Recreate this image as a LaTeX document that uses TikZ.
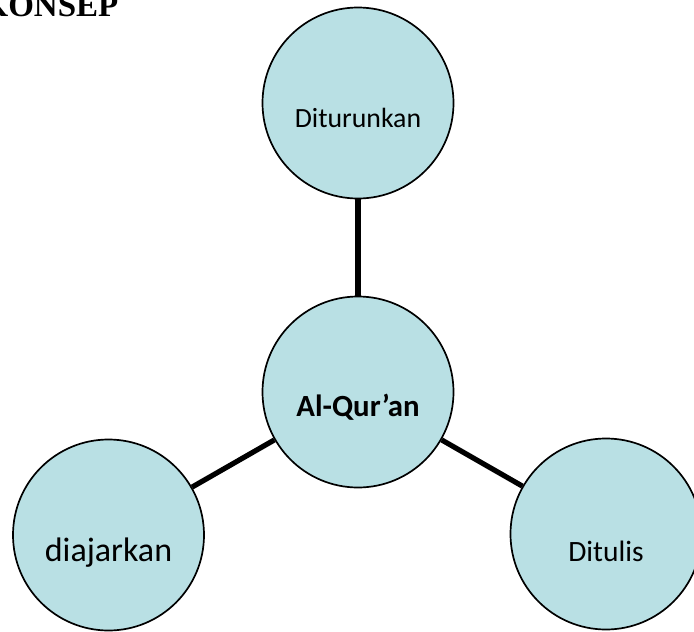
\documentclass[tikz,border=0pt]{standalone}
\usepackage{fontspec}
\setmainfont{Carlito}
\newfontfamily\titlefont{Liberation Serif}
\usetikzlibrary{positioning,calc}
\definecolor{bubc}{HTML}{B9E0E4}
\definecolor{linec}{HTML}{000000}

\begin{document}
\begin{tikzpicture}[x=1pt,y=-1pt,
      bubble/.style={circle,draw=linec,line width=1.7pt,fill=bubc,minimum size=191pt,inner sep=0pt},
      word/.style={inner sep=0pt,text=black},
      link/.style={draw=linec,line width=5.2pt}]
    \useasboundingbox (0,0) rectangle (694,632);
    \clip (0,0) rectangle (694,632);
    \node[word,anchor=base east,font=\titlefont\bfseries\fontsize{33}{33}\selectfont] (title) at (118.5,16.7) {KONSEP};
    % circles
    \node[bubble] (quran) at (358,392) {};
    \node[bubble] (turun) at (358,103) {};
    \node[bubble] (ajar) at (108.5,535) {};
    \node[bubble] (tulis) at (606,534) {};
    % connectors
    \draw[link] (quran) -- (turun);
    \draw[link] (quran) -- (ajar);
    \draw[link] (quran) -- (tulis);
    % texts
    \node[word,font=\bfseries\fontsize{30.8}{30.8}\selectfont] (quranT) at ([yshift=-15pt]quran.center) {Al-Qur’an};
    \node[word,font=\fontsize{27.8}{27.8}\selectfont] (turunT) at ([yshift=-15pt]turun.center) {Diturunkan};
    \node[word,font=\fontsize{34}{34}\selectfont] (ajarT) at ([yshift=-18pt]ajar.center) {diajarkan};
    \node[word,font=\fontsize{29.5}{29.5}\selectfont] (tulisT) at ([yshift=-17pt]tulis.center) {Ditulis};
  \end{tikzpicture}
\end{document}
